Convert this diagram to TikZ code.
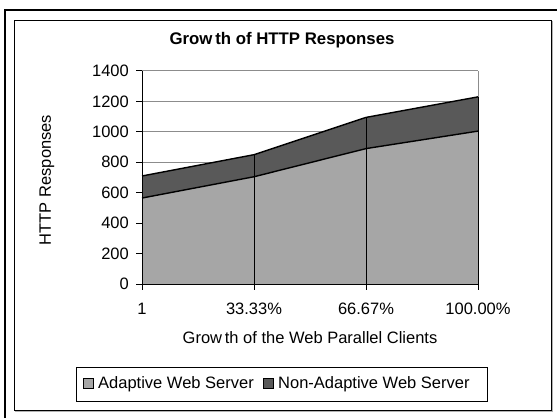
\documentclass[tikz,border=0pt]{standalone}
\usepackage{fontspec}
\setmainfont{Liberation Sans}
\begin{document}
\begin{tikzpicture}[x=1pt,y=-1pt,
  lbl/.style={inner sep=0pt,font=\fontsize{16.5}{18}\selectfont},
  ttl/.style={inner sep=0pt,font=\fontsize{16.8}{18}\selectfont\bfseries},
  grid line/.style={draw=gray!90,line width=1pt},
  adaptive/.style={fill=black!35},
  nonadaptive/.style={fill=black!65},
  edge line/.style={draw=black,line width=1.4pt,line join=round},
  cat line/.style={draw=black,line width=0.9pt},
  swatch/.style={draw=black,line width=0.8pt,minimum size=10.5pt,inner sep=0pt}]
\useasboundingbox (0,0) rectangle (557,418);
\fill[white] (0,0) rectangle (557,418);
% outer and inner frames
\draw[line width=1.4pt] (5,418) -- (5,10) -- (557,10);
\draw[line width=1pt] (14.5,20) rectangle (551,410);
\draw[gray!60,line width=1pt] (552,21) -- (552,411) -- (15,411);
% title
\node[ttl] (title) at (282,40) {Grow\,th of HTTP Responses};
% horizontal grid
\foreach \v in {200,400,...,1400} {
  \draw[grid line] (142,{284-\v*0.15214}) -- (478,{284-\v*0.15214});
}
\draw[grid line] (478,71) -- (478,284);
% stacked areas
\fill[nonadaptive] (142,{284-710*0.15214}) -- (254,{284-850*0.15214}) -- (366,{284-1095*0.15214}) -- (478,{284-1230*0.15214})
  -- (478,{284-1005*0.15214}) -- (366,{284-890*0.15214}) -- (254,{284-705*0.15214}) -- (142,{284-565*0.15214}) -- cycle;
\fill[adaptive] (142,{284-565*0.15214}) -- (254,{284-705*0.15214}) -- (366,{284-890*0.15214}) -- (478,{284-1005*0.15214})
  -- (478,284) -- (142,284) -- cycle;
\draw[edge line] (142,{284-710*0.15214}) -- (254,{284-850*0.15214}) -- (366,{284-1095*0.15214}) -- (478,{284-1230*0.15214});
\draw[edge line] (142,{284-565*0.15214}) -- (254,{284-705*0.15214}) -- (366,{284-890*0.15214}) -- (478,{284-1005*0.15214});
% category dividers, each up to the top of the stack
\foreach \x/\t in {254/850,366/1095,478/1230} {
  \draw[cat line] (\x,{284-\t*0.15214}) -- (\x,290);
}
% axes
\draw[line width=1pt] (142,71) -- (142,290);
\draw[line width=1pt] (142,284) -- (478,284);
\foreach \v/\n in {0/t0,200/t1,400/t2,600/t3,800/t4,1000/t5,1200/t6,1400/t7} {
  \draw[line width=1pt] (136,{284-\v*0.15214}) -- (142,{284-\v*0.15214});
  \node[lbl,anchor=east] (\n) at (129,{284-\v*0.15214}) {\v};
}
% category labels
\node[lbl] (c1) at (142,309) {1};
\node[lbl] (c2) at (254,309) {33.33\%};
\node[lbl] (c3) at (366,309) {66.67\%};
\node[lbl] (c4) at (478,309) {100.00\%};
% axis titles
\node[lbl] (xtitle) at (310,338) {Grow\,th of the Web Parallel Clients};
\node[lbl,rotate=90] (ytitle) at (47,180) {HTTP Responses};
% legend
\draw[line width=0.8pt] (76,367) rectangle (487,401);
\node[swatch,adaptive] (sw1) at (88.5,383.5) {};
\node[lbl,anchor=west] (lg1) at (98,384) {Adaptive Web Server};
\node[swatch,nonadaptive] (sw2) at (268.5,383.5) {};
\node[lbl,anchor=west] (lg2) at (278,384) {Non-Adaptive Web Server};
\end{tikzpicture}
\end{document}
